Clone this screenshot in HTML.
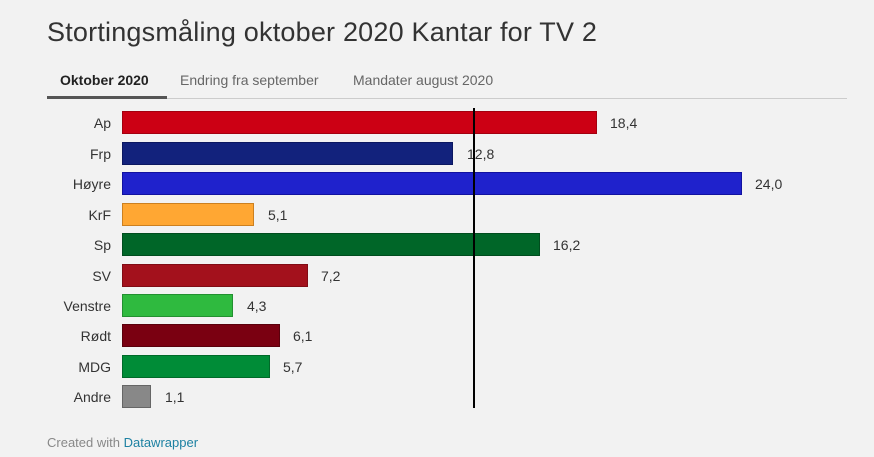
<!DOCTYPE html>
<html><head><meta charset="utf-8"><style>
html,body{margin:0;padding:0;background:#f2f2f2;}
body{width:874px;height:457px;position:relative;overflow:hidden;font-family:"Liberation Sans",Arial,sans-serif;color:#333;}
.t{position:absolute;white-space:nowrap;}
.bar{position:absolute;left:122px;height:21px;border:1px solid;}
.lab{position:absolute;right:763px;font-size:14px;color:#333;text-align:right;line-height:25px;}
.val{position:absolute;font-size:14px;color:#333;line-height:25px;}
</style></head><body>
<div class="t" style="left:47px;top:17px;font-size:27px;letter-spacing:0.2px;color:#333;">Stortingsmåling oktober 2020 Kantar for TV 2</div>
<div class="t" style="left:60px;top:72px;font-size:14px;font-weight:bold;color:#222;">Oktober 2020</div>
<div class="t" style="left:180px;top:72px;font-size:14px;color:#666;">Endring fra september</div>
<div class="t" style="left:353px;top:72px;font-size:14px;color:#666;">Mandater august 2020</div>
<div style="position:absolute;left:47px;top:98px;width:800px;height:1px;background:#ccc;"></div>
<div style="position:absolute;left:47px;top:96px;width:120px;height:3px;background:#555;"></div>

<div class="lab" style="top:111px">Ap</div><div class="bar" style="top:111px;width:473px;background:#cc0014;border-color:#a3000f"></div><div class="val" style="top:111px;left:610px">18,4</div>
<div class="lab" style="top:142px">Frp</div><div class="bar" style="top:142px;width:329px;background:#12227c;border-color:#0b1760"></div><div class="val" style="top:142px;left:467px">12,8</div>
<div class="lab" style="top:172px">Høyre</div><div class="bar" style="top:172px;width:618px;background:#1f22cc;border-color:#1212a0"></div><div class="val" style="top:172px;left:755px">24,0</div>
<div class="lab" style="top:203px">KrF</div><div class="bar" style="top:203px;width:130px;background:#ffa733;border-color:#cc8020"></div><div class="val" style="top:203px;left:268px">5,1</div>
<div class="lab" style="top:233px">Sp</div><div class="bar" style="top:233px;width:416px;background:#006628;border-color:#004d1e"></div><div class="val" style="top:233px;left:553px">16,2</div>
<div class="lab" style="top:264px">SV</div><div class="bar" style="top:264px;width:184px;background:#a3111c;border-color:#800c15"></div><div class="val" style="top:264px;left:321px">7,2</div>
<div class="lab" style="top:294px">Venstre</div><div class="bar" style="top:294px;width:109px;background:#2fba3f;border-color:#229030"></div><div class="val" style="top:294px;left:247px">4,3</div>
<div class="lab" style="top:324px">Rødt</div><div class="bar" style="top:324px;width:156px;background:#7a0011;border-color:#5a000c"></div><div class="val" style="top:324px;left:293px">6,1</div>
<div class="lab" style="top:355px">MDG</div><div class="bar" style="top:355px;width:146px;background:#008c37;border-color:#006a29"></div><div class="val" style="top:355px;left:283px">5,7</div>
<div class="lab" style="top:385px">Andre</div><div class="bar" style="top:385px;width:27px;background:#888;border-color:#666"></div><div class="val" style="top:385px;left:165px">1,1</div>

<div style="position:absolute;left:473px;top:108px;width:2px;height:300px;background:#000;"></div>
<div class="t" style="left:47px;top:435px;font-size:13px;color:#888;">Created with <span style="color:#1d81a2">Datawrapper</span></div>
</body></html>
